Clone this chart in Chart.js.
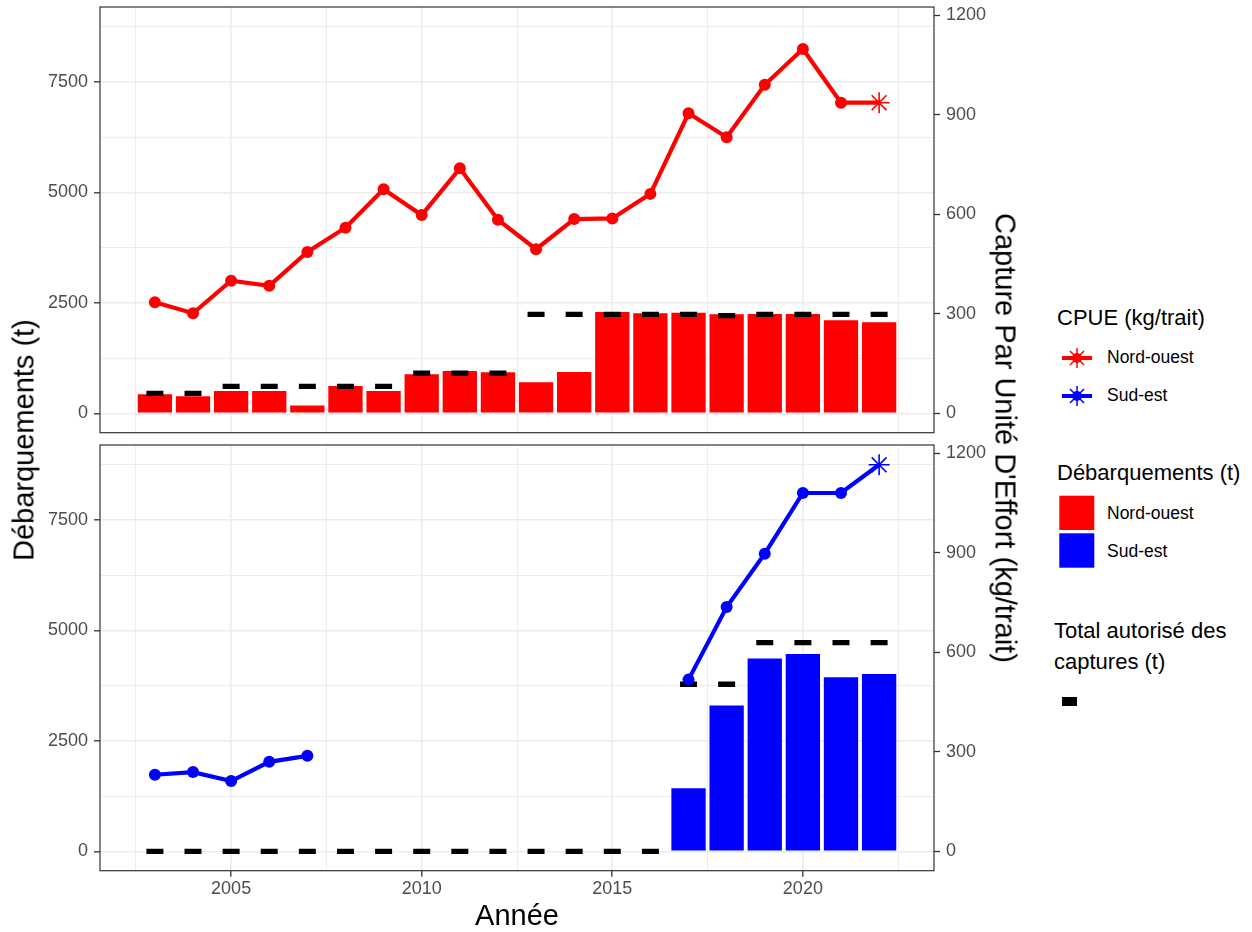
<!DOCTYPE html>
<html lang="fr">
<head>
<meta charset="utf-8">
<title>Débarquements et CPUE</title>
<script src="https://cdn.jsdelivr.net/npm/chart.js@4.4.1/dist/chart.umd.min.js"></script>
<style>
  html, body { margin: 0; padding: 0; background: #ffffff; }
  #wrap { position: relative; width: 1252px; height: 932px; overflow: hidden;
          font-family: "Liberation Sans", Arial, Helvetica, sans-serif; color: #000; }
  canvas { position: absolute; left: 0; }
  #cTop { top: 0; }
  #cBot { top: 437px; }
  .t { position: absolute; white-space: nowrap; line-height: 1; color: #000; }
  .axis-title { font-size: 29px; }
  .leg-title { font-size: 22px; }
  .leg-text { font-size: 17.5px; }
  #keys { position: absolute; left: 0; top: 0; pointer-events: none; }
</style>
</head>
<body>
<div id="wrap">
  <canvas id="cTop" width="1040" height="440"></canvas>
  <canvas id="cBot" width="1040" height="495"></canvas>

  <div class="t axis-title" style="left:24px; top:440px; transform:translate(-50%,-50%) rotate(-90deg);">Débarquements (t)</div>
  <div class="t axis-title" style="left:1005px; top:438px; transform:translate(-50%,-50%) rotate(90deg);">Capture Par Unité D'Effort (kg/trait)</div>
  <div class="t axis-title" style="left:517px; top:900.5px; transform:translateX(-50%);">Année</div>

  <div class="t leg-title" style="left:1057px; top:307px;">CPUE (kg/trait)</div>
  <div class="t leg-text" style="left:1107px; top:349px;">Nord-ouest</div>
  <div class="t leg-text" style="left:1107px; top:387px;">Sud-est</div>

  <div class="t leg-title" style="left:1057px; top:462px;">Débarquements (t)</div>
  <div class="t leg-text" style="left:1107px; top:504.5px;">Nord-ouest</div>
  <div class="t leg-text" style="left:1107px; top:543px;">Sud-est</div>

  <div class="t leg-title" style="left:1054px; top:620px;">Total autorisé des</div>
  <div class="t leg-title" style="left:1054px; top:650.5px;">captures (t)</div>

  <svg id="keys" width="1252" height="932" xmlns="http://www.w3.org/2000/svg">
    <g id="keyNO"></g>
    <g id="keySE"></g>
    <rect x="1059.3" y="495.7" width="35" height="34.3" fill="#FF0000"/>
    <rect x="1059.3" y="533.3" width="35" height="34.4" fill="#0000FF"/>
    <rect x="1062" y="697" width="15" height="9" fill="#000000"/>
  </svg>
</div>

<script>
// ---- data -------------------------------------------------------------
const YEARS = [2003, 2004, 2005, 2006, 2007, 2008, 2009, 2010, 2011, 2012,
               2013, 2014, 2015, 2016, 2017, 2018, 2019, 2020, 2021, 2022];

// Nord-ouest
const NO_LANDINGS = [430, 385, 505, 505, 180, 618, 505, 882, 957, 927,
                     701, 934, 2292, 2262, 2276, 2240, 2247, 2247, 2104, 2059];
const NO_TAC      = [450, 450, 610, 610, 610, 610, 610, 910, 910, 910,
                     2240, 2240, 2240, 2240, 2240, 2210, 2240, 2240, 2240, 2240];
const NO_CPUE     = [335, 302, 400, 385, 487, 560, 676, 598, 739, 584,
                     495, 586, 588, 662, 905, 833, 991, 1099, 937, 937];

// Sud-est
const SE_LANDINGS = [null, null, null, null, null, null, null, null, null, null,
                     null, null, null, null, 1425, 3300, 4365, 4462, 3936, 4010];
const SE_TAC      = [0, 0, 0, 0, 0, 0, 0, 0, 0, 0,
                     0, 0, 0, 0, 3780, 3780, 4720, 4720, 4720, 4720];
const SE_CPUE     = [231, 239, 212, 270, 288, null, null, null, null, null,
                     null, null, null, null, 518, 737, 898, 1081, 1081, 1166];

// axes
const X_GRID   = [2002.5, 2005, 2007.5, 2010, 2012.5, 2015, 2017.5, 2020, 2022.5];
const X_LABELS = [2005, 2010, 2015, 2020];
const Y_GRID   = [0, 1250, 2500, 3750, 5000, 6250, 7500, 8750];
const Y_LABELS = [0, 2500, 5000, 7500];
const Y1_LABELS = [0, 300, 600, 900, 1200];
const CPUE_FACTOR = 7.5;          // t per (kg/trait) on the secondary axis
const X_MIN = 2001.56, X_MAX = 2023.44;
const Y_MIN = -438, Y_MAX = 9193;

const RED = '#FF0000', BLUE = '#0000FF';

// ---- drawing helpers ---------------------------------------------------
Chart.defaults.font.family = '"Liberation Sans", Arial, Helvetica, sans-serif';
Chart.defaults.color = '#4d4d4d';

const series = vals => YEARS.map((x, i) => ({ x, y: vals[i] }));
const LAST = YEARS.length - 1;

const panelBorder = {
  id: 'panelBorder',
  afterDatasetsDraw(chart) {
    const { ctx, chartArea: a } = chart;
    ctx.save();
    ctx.strokeStyle = '#333333';
    ctx.lineWidth = 1.2;
    ctx.strokeRect(a.left, a.top, a.right - a.left, a.bottom - a.top);
    ctx.restore();
  }
};

const tickVal = c => (c.tick ? c.tick.value : NaN);

function makeScales(showX, xAxisHeight) {
  return {
    x: {
      type: 'linear', min: X_MIN, max: X_MAX, bounds: 'data', offset: false,
      afterBuildTicks: s => { s.ticks = X_GRID.map(v => ({ value: v })); },
      afterFit: s => { s.height = xAxisHeight; s.paddingLeft = 0; s.paddingRight = 0; },
      border: { display: false },
      grid: {
        offset: false,
        color: '#ebebeb',
        lineWidth: c => X_LABELS.includes(tickVal(c)) ? 1.6 : 0.9,
        drawTicks: showX, tickLength: 6, tickWidth: 1.3,
        tickColor: c => X_LABELS.includes(tickVal(c)) ? '#333333' : 'rgba(0,0,0,0)'
      },
      ticks: {
        display: showX, autoSkip: false, maxRotation: 0, minRotation: 0, padding: 1.5,
        font: { size: 18 }, color: '#4d4d4d',
        callback: v => X_LABELS.includes(v) ? String(v) : ''
      }
    },
    y: {
      type: 'linear', position: 'left', min: Y_MIN, max: Y_MAX, bounds: 'data',
      afterBuildTicks: s => { s.ticks = Y_GRID.map(v => ({ value: v })); },
      afterFit: s => { s.width = 100; s.paddingTop = 0; s.paddingBottom = 0; },
      border: { display: false },
      grid: {
        color: '#ebebeb',
        lineWidth: c => Y_LABELS.includes(tickVal(c)) ? 1.6 : 0.9,
        drawTicks: true, tickLength: 6, tickWidth: 1.3,
        tickColor: c => Y_LABELS.includes(tickVal(c)) ? '#333333' : 'rgba(0,0,0,0)'
      },
      ticks: {
        autoSkip: false, padding: 6, font: { size: 18 }, color: '#4d4d4d',
        callback: v => Y_LABELS.includes(v) ? String(v) : ''
      }
    },
    y1: {
      type: 'linear', position: 'right',
      min: Y_MIN / CPUE_FACTOR, max: Y_MAX / CPUE_FACTOR, bounds: 'data',
      afterBuildTicks: s => { s.ticks = Y1_LABELS.map(v => ({ value: v })); },
      afterFit: s => { s.width = 106; s.paddingTop = 0; s.paddingBottom = 0; },
      border: { display: false },
      grid: {
        drawOnChartArea: false, drawTicks: true, tickLength: 6, tickWidth: 1.3,
        tickColor: '#333333'
      },
      ticks: {
        autoSkip: false, padding: 6, font: { size: 18 }, color: '#4d4d4d',
        callback: v => String(v)
      }
    }
  };
}

function makeDatasets(landings, tac, cpue, color) {
  return [
    {
      type: 'line', label: 'CPUE', data: series(cpue), yAxisID: 'y1', order: 0,
      borderColor: color, borderWidth: 4.2, tension: 0, spanGaps: false,
      pointStyle: c => c.dataIndex === LAST ? 'star' : 'circle',
      pointRadius: c => c.dataIndex === LAST ? 10.5 : 6,
      pointBorderWidth: c => c.dataIndex === LAST ? 1.6 : 0,
      pointBackgroundColor: color, pointBorderColor: color
    },
    {
      type: 'line', label: 'TAC', data: series(tac), yAxisID: 'y', order: 1,
      showLine: false, pointStyle: 'line', pointRadius: 8.5,
      pointBorderWidth: 5.3, pointBorderColor: '#000000', pointBackgroundColor: '#000000'
    },
    {
      type: 'bar', label: 'Débarquements', data: series(landings), yAxisID: 'y', order: 2,
      backgroundColor: color, borderWidth: 0,
      barPercentage: 0.9, categoryPercentage: 1
    }
  ];
}

function makeChart(id, datasets, showX, padTop, padBottom, xAxisHeight) {
  return new Chart(document.getElementById(id), {
    type: 'bar',
    data: { datasets },
    options: {
      responsive: false, animation: false, events: [],
      layout: { autoPadding: false, padding: { top: padTop, bottom: padBottom, left: 0, right: 0 } },
      plugins: { legend: { display: false }, tooltip: { enabled: false } },
      scales: makeScales(showX, xAxisHeight)
    },
    plugins: [panelBorder]
  });
}

makeChart('cTop', makeDatasets(NO_LANDINGS, NO_TAC, NO_CPUE, RED), false, 7, 7.3, 0);
makeChart('cBot', makeDatasets(SE_LANDINGS, SE_TAC, SE_CPUE, BLUE), true, 8, 0, 61.3);

// ---- legend keys (line + point + asterisk) -----------------------------
function drawKey(gId, cx, cy, color) {
  const g = document.getElementById(gId);
  const ns = 'http://www.w3.org/2000/svg';
  const add = (tag, attrs) => {
    const el = document.createElementNS(ns, tag);
    for (const k in attrs) el.setAttribute(k, attrs[k]);
    g.appendChild(el);
  };
  add('line', { x1: cx - 15, y1: cy, x2: cx + 15, y2: cy, stroke: color, 'stroke-width': 4 });
  add('circle', { cx, cy, r: 5, fill: color });
  const r = 10;
  [0, 45, 90, 135].forEach(a => {
    const t = a * Math.PI / 180, dx = Math.cos(t) * r, dy = Math.sin(t) * r;
    add('line', { x1: cx - dx, y1: cy - dy, x2: cx + dx, y2: cy + dy, stroke: color, 'stroke-width': 1.5 });
  });
}
drawKey('keyNO', 1077, 358, RED);
drawKey('keySE', 1077, 396, BLUE);
</script>
</body>
</html>
